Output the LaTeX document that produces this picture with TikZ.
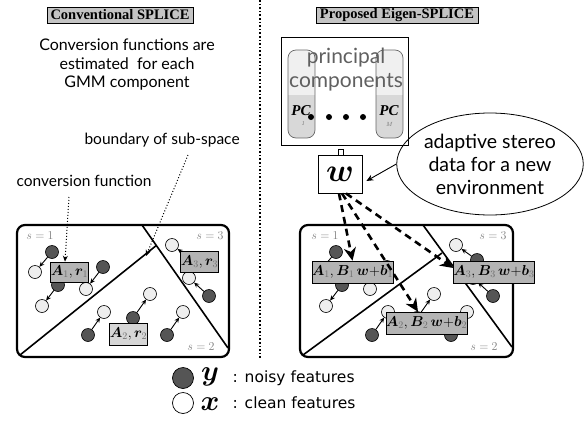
\documentclass[tikz,border=0pt]{standalone}
\usepackage{amsmath,bm}
\usepackage{graphicx}
\usepackage{fontspec}
\newfontfamily\hum{Lato}
\newfontfamily\hel{DejaVu Sans}
\newfontfamily\hdr{Liberation Serif}
\usetikzlibrary{arrows.meta,shapes.geometric}
\definecolor{dkfill}{HTML}{555555}
\definecolor{ltfill}{HTML}{EEEEEE}
\definecolor{fnA}{HTML}{B4B4B4}
\definecolor{fnB}{HTML}{D6D6D6}
\definecolor{hdrfill}{HTML}{C4C4C4}
\definecolor{pctop}{HTML}{F0F0F0}
\definecolor{pcbot}{HTML}{D8D8D8}
\definecolor{subgray}{HTML}{6E6E6E}
\newcommand{\gsub}[1]{_{\textcolor{subgray}{\scriptstyle #1}}}
\newcommand{\bigsym}[2]{\scalebox{#1}{\fontsize{24.88}{25}\selectfont$\bm{#2}$}}
\begin{document}
\begin{tikzpicture}[x=1pt,y=-1pt,
  hdrbox/.style={draw, fill=hdrfill, line width=0.7pt, inner sep=0pt,
    minimum height=16pt, font=\hdr\bfseries\fontsize{14.5}{15}\selectfont},
  note/.style={font=\hum\fontsize{16}{18.5}\selectfont, align=center},
  dk/.style={circle, draw, fill=dkfill, line width=0.6pt, minimum size=13pt, inner sep=0pt},
  lt/.style={circle, draw, fill=ltfill, line width=0.6pt, minimum size=13pt, inner sep=0pt},
  conv/.style={-{Stealth[length=5pt,width=4.5pt]}, line width=0.9pt},
  fnbox/.style={draw, line width=0.6pt, inner sep=0pt, font=\fontsize{14.4}{15}\selectfont},
  slab/.style={text=gray, font=\fontsize{12}{12}\selectfont},
  bigbox/.style={line width=2.2pt, rounded corners=8pt},
  split/.style={line width=1.6pt},
  leader/.style={dotted, line width=1pt, -{Stealth[length=6pt,width=5pt]}},
  dasharr/.style={line width=2.6pt, dash pattern=on 7pt off 5pt,
    -{Stealth[length=13pt,width=12pt,inset=4pt]}},
  pill/.style={rounded corners=8pt, draw=gray!80!black, line width=0.7pt},
  pclab/.style={font=\bfseries\itshape\hdr\fontsize{15}{15}\selectfont},
  pcsub/.style={text=subgray, font=\itshape\fontsize{6}{6}\selectfont},
  legtxt/.style={font=\hel\fontsize{15.5}{16}\selectfont, anchor=west}]
\useasboundingbox (0,0) rectangle (587,429);

% divider between the two methods
\draw[dotted, line width=1.6pt] (260,0) -- (260,358);

% ---------------- left: conventional method ----------------
\node[hdrbox, minimum width=146pt] (hl) at (120,15) {Conventional SPLICE};
\node[note] (nl) at (127,65) {Conversion functions are\\estimated\ \ for each\\GMM component};
\node[note, anchor=west, font=\hum\fontsize{15.5}{18}\selectfont] (nb) at (81,140) {boundary of sub-space};
\node[note, anchor=west, font=\hum\fontsize{15.5}{18}\selectfont] (nc) at (13,181) {conversion function};

\draw[bigbox] (17,225) rectangle (229,357);
\draw[split] (20,355) -- (156.3,245.5);
\draw[split] (142,225) -- (228,348);
\node[slab] at (40,236) {$s=1$};
\node[slab] at (210,236) {$s=3$};
\node[slab] at (201,347) {$s=2$};

\node[dk] (d1) at (52,252) {};  \node[lt] (l1) at (35,272) {};
\node[dk] (d2) at (58,285) {};  \node[lt] (l2) at (42,306) {};
\node[dk] (d3) at (103,267) {}; \node[lt] (l3) at (86,289) {};
\node[dk] (d4) at (193,260) {}; \node[lt] (l4) at (172,245) {};
\node[dk] (d5) at (209,296) {}; \node[lt] (l5) at (189,278) {};
\node[dk] (d6) at (88,335) {};  \node[lt] (l6) at (104,312) {};
\node[dk] (d7) at (133,318) {}; \node[lt] (l7) at (150,294) {};
\node[dk] (d8) at (167,335) {}; \node[lt] (l8) at (183,312) {};
\foreach \i in {1,...,8} \draw[conv] (d\i) -- (l\i);

\node[fnbox, fill=fnA, minimum width=35pt, minimum height=20pt] (a1) at (69.5,272) {$\bm{A}\gsub{1},\bm{r}\gsub{1}$};
\node[fnbox, fill=fnA, minimum width=35pt, minimum height=21pt] (a3) at (199.5,261.5) {$\bm{A}\gsub{3},\bm{r}\gsub{3}$};
\node[fnbox, fill=fnB, minimum width=37pt, minimum height=22pt] (a2) at (128.5,334) {$\bm{A}\gsub{2},\bm{r}\gsub{2}$};

\coordinate (cf) at (69,197);
\coordinate (bd) at (188,155);
\draw[leader] (cf) -- (a1.north -| 65,0);
\draw[leader] (bd) -- (146,256);

% ---------------- right: proposed method ----------------
\node[hdrbox, minimum width=162pt] (hr) at (397,15) {Proposed Eigen-SPLICE};

\draw[line width=0.8pt] (281,37) rectangle (408,145);
\foreach \px in {288,376} {
  \begin{scope}
    \clip[rounded corners=8pt] (\px,50) rectangle ++(27,88);
    \fill[pctop] (\px,50) rectangle ++(27,45);
    \fill[pcbot] (\px,95) rectangle ++(27,43);
  \end{scope}
  \draw[pill] (\px,50) rectangle ++(27,88);
}
\node[text=gray!75!black, font=\hum\fontsize{21}{24}\selectfont, align=center] (pcs) at (346,70) {principal\\components};
\node[pclab] (pc1) at (301,111) {PC};
\node[pcsub] (pc1s) at (303,124) {1};
\node[pclab] (pcm) at (389,111) {PC};
\node[pcsub] (pcms) at (389,124) {M};
\foreach \dx in {311,329,346,363} \fill (\dx,117) circle (3pt);

\draw[line width=0.8pt] (338,155) rectangle (343,149);
\node[draw, line width=0.8pt, minimum width=44pt, minimum height=38pt, inner sep=0pt] (w) at (340,174) {\bigsym{1.3}{w}};

\node[ellipse, draw, line width=0.8pt, minimum width=166pt, minimum height=102pt,
  inner sep=0pt, align=center, font=\hum\fontsize{19.5}{23}\selectfont] (env) at (490,164)
  {adaptive stereo\\data for a new\\environment};
\draw[-{Stealth[length=7pt,width=6pt]}, line width=0.9pt] (env.west) -- ([xshift=4pt,yshift=-7pt]w.east);

\draw[bigbox] (300,225) rectangle (513,357);
\draw[split] (303,355) -- (442,253);
\draw[split] (423,225) -- (512,347);
\node[slab] at (325,236) {$s=1$};
\node[slab] at (493,236) {$s=3$};
\node[slab] at (484,347) {$s=2$};

\node[dk] (e1) at (336,252) {};  \node[lt] (m1) at (319,272) {};
\node[dk] (e2) at (342,285) {};  \node[lt] (m2) at (326,306) {};
\node[dk] (e3) at (387,267) {};  \node[lt] (m3) at (370,289) {};
\node[dk] (e4) at (477,260) {};  \node[lt] (m4) at (456,245) {};
\node[dk] (e5) at (493,296) {};  \node[lt] (m5) at (473,278) {};
\node[dk] (e6) at (372,335) {};  \node[lt] (m6) at (388,312) {};
\node[dk] (e7) at (417,318) {};  \node[lt] (m7) at (434,294) {};
\node[dk] (e8) at (451,335) {};  \node[lt] (m8) at (467,312) {};
\foreach \i in {1,...,8} \draw[conv] (e\i) -- (m\i);

\node[fnbox, fill=fnA, minimum width=71pt, minimum height=22pt] (b1) at (352.5,272)
  {$\bm{A}\gsub{1},\bm{B}\gsub{1}\,\bm{w}{+}\bm{b}\gsub{1}$};
\node[fnbox, fill=fnA, minimum width=72pt, minimum height=22pt] (b3) at (494,272)
  {$\bm{A}\gsub{3},\bm{B}\gsub{3}\,\bm{w}{+}\bm{b}\gsub{3}$};
\node[fnbox, fill=fnA, minimum width=73pt, minimum height=22pt] (b2) at (426.5,323)
  {$\bm{A}\gsub{2},\bm{B}\gsub{2}\,\bm{w}{+}\bm{b}\gsub{2}$};

% coefficients w feed the three conversion functions
\draw[dasharr] ([xshift=-1pt]w.south) -- (b1.north);
\draw[dasharr] ([xshift=2pt]w.south) -- (b2.north -| 418,0);
\draw[dasharr] ([xshift=6pt]w.south) -- ([yshift=4pt]b3.west);

% ---------------- legend ----------------
\node[circle, draw, fill=dkfill, line width=0.7pt, minimum size=21pt, inner sep=0pt] (ky) at (183,378) {};
\node[inner sep=0pt] (ty) at (210,377) {\bigsym{1.15}{y}};
\node[legtxt] (ny) at (229,378) {:\hspace{7pt}noisy features};
\node[circle, draw, fill=white, line width=0.7pt, minimum size=21pt, inner sep=0pt] (kx) at (183,403) {};
\node[inner sep=0pt] (tx) at (210,404) {\bigsym{1.15}{x}};
\node[legtxt] (nx) at (229,403) {:\hspace{7pt}clean features};
\end{tikzpicture}
\end{document}
